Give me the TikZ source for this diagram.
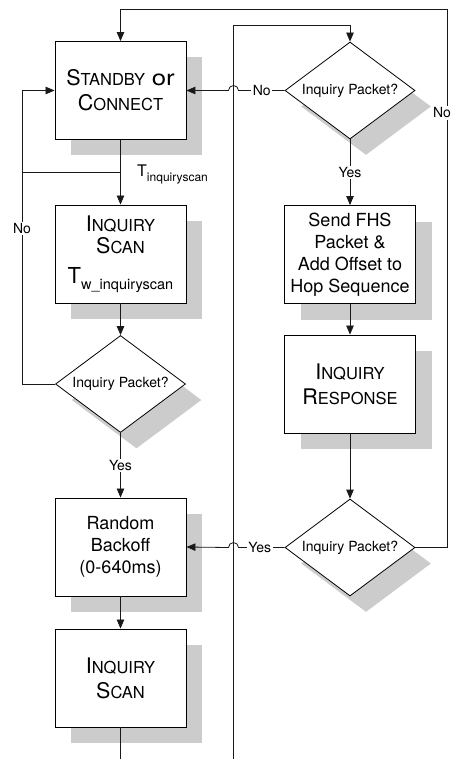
\documentclass[tikz,border=0pt]{standalone}
\usepackage{fontspec}
\setmainfont{TeX Gyre Heros}
\usetikzlibrary{arrows.meta,shapes.geometric,shadows}

% enlarged initial letter for the faked small capitals
\newcommand\Bg[1]{{\fontsize{21.5}{25}\selectfont #1}}

\begin{document}
\begin{tikzpicture}[x=1pt,y=-1pt,
  every node/.style={inner sep=0pt},
  boxshadow/.style={drop shadow={shadow xshift=16pt,shadow yshift=-16pt,opacity=1,fill=black!20,draw=none}},
  proc/.style={draw=black,line width=0.9pt,fill=white,minimum width=131pt,minimum height=98pt,
    align=center,boxshadow},
  capsbox/.style={proc,font=\fontsize{16.5}{25}\selectfont},
  textbox/.style={proc,font=\fontsize{18}{22}\selectfont},
  decision/.style={diamond,draw=black,line width=0.8pt,fill=white,minimum width=130pt,minimum height=97pt,
    boxshadow,label={[font=\fontsize{14}{16}\selectfont]center:Inquiry Packet?}},
  link/.style={draw=black!90,line width=0.8pt},
  arr/.style={link,-{Triangle[length=9pt,width=7.5pt]}},
  lbl/.style={fill=white,inner sep=1.5pt,font=\fontsize{14}{16}\selectfont}
]
\useasboundingbox (0,0) rectangle (452,759);

% left column
\node[capsbox] (sb) at (120.5,90.5)
  {\Bg{S}TANDBY\hspace{2pt} \Bg{\scalebox{1.2}[1]{or}}\\\Bg{C}ONNECT};
\node[capsbox,font=\fontsize{16.5}{22}\selectfont] (is1) at (120.5,254)
  {\Bg{I}NQUIRY\\\Bg{S}CAN\\[8pt]{\fontsize{22}{22}\selectfont T}\raisebox{-5.7pt}{\fontsize{14.5}{15}\selectfont w\_inquiryscan}};
\node[decision] (d2) at (120.5,384) {};
\node[textbox] (rb) at (120.5,547) {Random\\Backoff\\(0-640ms)};
\node[capsbox] (is2) at (120.5,678) {\Bg{I}NQUIRY\\\Bg{S}CAN};

% right column
\node[decision] (d1) at (350,90.5) {};
\node[textbox] (fhs) at (350,254.5) {Send FHS\\Packet \&\\Add Offset to\\Hop Sequence};
\node[capsbox] (ir) at (350,384) {\Bg{I}NQUIRY\\\Bg{R}ESPONSE};
\node[decision] (d3) at (350,547.5) {};

% timing label below the standby box
\node[anchor=base west] (tlab) at (137,176.7)
  {{\fontsize{16}{16}\selectfont T}\raisebox{-5pt}{\fontsize{12}{12}\selectfont inquiryscan}};

% routing points
\coordinate (lb) at (22,384);
\coordinate (lt) at (22,90.5);
\coordinate (jl) at (22,172);
\coordinate (jr) at (120.5,172);
\coordinate (rb1) at (447,547.5);
\coordinate (rt1) at (447,9);
\coordinate (rt2) at (120.5,9);
\coordinate (mbot) at (233,762);
\coordinate (mtop) at (233,25);
\coordinate (mtop2) at (350,25);
\coordinate (hop1) at (238.5,90.5);
\coordinate (hop2) at (238.5,547.5);
\coordinate (cbot) at (120.5,762);

% main flow, left column
\draw[arr] (sb.south) -- (is1.north);
\draw[arr] (is1.south) -- (d2.north);
\draw[arr] (d2.south) -- node[lbl] {Yes} (rb.north);
\draw[arr] (rb.south) -- (is2.north);
\draw[link] (is2.south) -- (cbot);

% main flow, right column
\draw[link] (mbot) -- (mtop) -- (mtop2);
\draw[arr] (mtop2) -- (d1.north);
\draw[arr] (d1.south) -- node[lbl] {Yes} (fhs.north);
\draw[arr] (fhs.south) -- (ir.north);
\draw[arr] (ir.south) -- (d3.north);

% crossings with line hops
\draw[arr] (d1.west) -- node[lbl,pos=0.495] {No} (hop1)
  arc[start angle=0,end angle=180,radius=5pt] -- (sb.east);
\draw[arr] (d3.west) -- node[lbl,pos=0.54] {Yes} (hop2)
  arc[start angle=0,end angle=180,radius=5pt] -- (rb.east);

% feedback loops
\draw[arr] (d2.west) -- (lb) -- node[lbl,pos=0.53] {No} (lt) -- (sb.west);
\draw[link] (jl) -- (jr);
\draw[arr] (d3.east) -- (rb1) -- node[lbl,pos=0.807,xshift=-5pt] {No} (rt1) -- (rt2) -- (sb.north);
\end{tikzpicture}
\end{document}
